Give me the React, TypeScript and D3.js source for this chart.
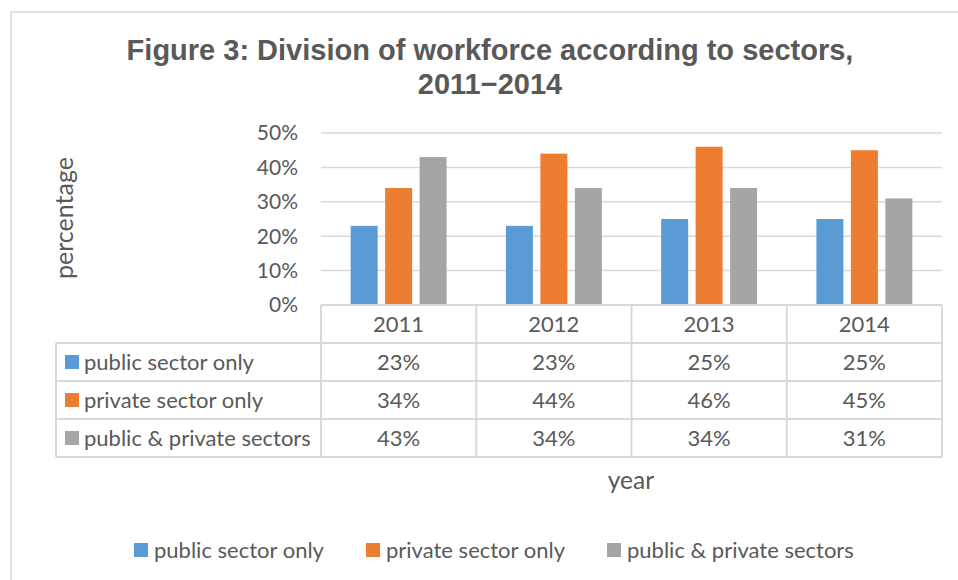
import React, { useEffect, useRef } from 'react';
import * as d3 from 'd3';

const years = ['2011', '2012', '2013', '2014'];
const seriesNames = ['public sector only', 'private sector only', 'public & private sectors'];
const publicOnly = [23, 23, 25, 25];
const privateOnly = [34, 44, 46, 45];
const bothSectors = [43, 34, 34, 31];
const colors = ['#5B9BD5', '#ED7D31', '#A5A5A5'];
const yTicks = [0, 10, 20, 30, 40, 50];

const textColor = '#595959';
const gridColor = '#D9D9D9';
const bodyFont = 'Lato, "Open Sans", sans-serif';

export default function App() {
  const svgRef = useRef<SVGSVGElement>(null);

  useEffect(() => {
    document.body.style.margin = '0';
    if (!svgRef.current) return;
    const svg = d3.select(svgRef.current);
    svg.selectAll('*').remove();

    const width = 958;
    const height = 580;
    const plot = { left: 321, right: 942, top: 133, bottom: 305 };
    const rowH = 38;

    svg.append('rect').attr('width', width).attr('height', height).attr('fill', '#fff');

    // chart border (right/bottom edges fall outside the picture)
    svg.append('rect')
      .attr('x', 11).attr('y', 12)
      .attr('width', 980).attr('height', 600)
      .attr('fill', 'none').attr('stroke', gridColor).attr('stroke-width', 1.5);

    // title
    const title = svg.append('text')
      .attr('text-anchor', 'middle')
      .attr('font-family', '"Liberation Sans", Arial, sans-serif')
      .attr('font-weight', 'bold')
      .attr('font-size', 29)
      .attr('fill', textColor);
    title.append('tspan').attr('x', 490).attr('y', 60).text('Figure 3: Division of workforce according to sectors,');
    title.append('tspan').attr('x', 490).attr('y', 94).text('2011\u22122014');

    const data = [publicOnly, privateOnly, bothSectors];

    const x = d3.scaleBand().domain(years).range([plot.left, plot.right]).paddingInner(0).paddingOuter(0);
    const xs = d3.scaleBand().domain(seriesNames).range([0, x.bandwidth()]).paddingInner(0.217).paddingOuter(0.86);
    const y = d3.scaleLinear().domain([0, 50]).range([plot.bottom, plot.top]);

    // gridlines
    svg.append('g')
      .selectAll('line')
      .data(yTicks.filter(t => t > 0))
      .join('line')
      .attr('x1', plot.left).attr('x2', plot.right)
      .attr('y1', d => y(d)).attr('y2', d => y(d))
      .attr('stroke', gridColor).attr('stroke-width', 1.5);

    // y tick labels
    svg.append('g')
      .selectAll('text')
      .data(yTicks)
      .join('text')
      .attr('x', 298)
      .attr('y', d => y(d))
      .attr('dy', '0.35em')
      .attr('text-anchor', 'end')
      .attr('font-family', bodyFont)
      .attr('font-size', 21)
      .attr('fill', textColor)
      .text(d => `${d}%`);

    // bars
    seriesNames.forEach((name, si) => {
      svg.append('g')
        .selectAll('rect')
        .data(years)
        .join('rect')
        .attr('x', (d) => (x(d) ?? 0) + (xs(name) ?? 0))
        .attr('width', xs.bandwidth())
        .attr('y', (_, i) => y(data[si][i]))
        .attr('height', (_, i) => y(0) - y(data[si][i]))
        .attr('fill', colors[si]);
    });

    // data table
    const table = svg.append('g')
      .attr('fill', 'none').attr('stroke', gridColor).attr('stroke-width', 2);
    const tableLeft = 56;
    const tableBottom = plot.bottom + rowH * 4;
    table.append('line').attr('x1', plot.left).attr('x2', plot.right).attr('y1', plot.bottom).attr('y2', plot.bottom);
    for (let r = 1; r <= 4; r++) {
      table.append('line')
        .attr('x1', tableLeft).attr('x2', plot.right)
        .attr('y1', plot.bottom + rowH * r).attr('y2', plot.bottom + rowH * r);
    }
    table.append('line').attr('x1', tableLeft).attr('x2', tableLeft)
      .attr('y1', plot.bottom + rowH).attr('y2', tableBottom);
    [...years.map(d => x(d) ?? 0), plot.right].forEach(vx => {
      table.append('line').attr('x1', vx).attr('x2', vx)
        .attr('y1', plot.bottom).attr('y2', tableBottom);
    });

    const cellText = (g: d3.Selection<SVGGElement, unknown, null, undefined>) =>
      g.attr('font-family', bodyFont).attr('font-size', 22).attr('fill', textColor);

    // header years
    cellText(svg.append('g'))
      .selectAll('text')
      .data(years)
      .join('text')
      .attr('x', d => (x(d) ?? 0) + x.bandwidth() / 2)
      .attr('y', plot.bottom + rowH / 2)
      .attr('dy', '0.35em')
      .attr('text-anchor', 'middle')
      .text(d => d);

    // rows
    seriesNames.forEach((name, si) => {
      const rowY = plot.bottom + rowH * (si + 1) + rowH / 2;
      svg.append('rect')
        .attr('x', 65).attr('y', rowY - 7)
        .attr('width', 14).attr('height', 14)
        .attr('fill', colors[si]);
      cellText(svg.append('g'))
        .append('text')
        .attr('x', 84).attr('y', rowY).attr('dy', '0.35em')
        .text(name);
      cellText(svg.append('g'))
        .selectAll('text')
        .data(years)
        .join('text')
        .attr('x', d => (x(d) ?? 0) + x.bandwidth() / 2)
        .attr('y', rowY)
        .attr('dy', '0.35em')
        .attr('text-anchor', 'middle')
        .text((_, i) => `${data[si][i]}%`);
    });

    // axis titles
    svg.append('text')
      .attr('transform', 'translate(64,218) rotate(-90)')
      .attr('text-anchor', 'middle')
      .attr('dy', '0.35em')
      .attr('font-family', bodyFont)
      .attr('font-size', 25)
      .attr('fill', textColor)
      .text('percentage');

    svg.append('text')
      .attr('x', 631).attr('y', 480)
      .attr('dy', '0.35em')
      .attr('text-anchor', 'middle')
      .attr('font-family', bodyFont)
      .attr('font-size', 24.5)
      .attr('fill', textColor)
      .text('year');

    // legend
    const legendX = [134, 366, 607];
    seriesNames.forEach((name, si) => {
      svg.append('rect')
        .attr('x', legendX[si]).attr('y', 543)
        .attr('width', 14).attr('height', 14)
        .attr('fill', colors[si]);
      svg.append('text')
        .attr('x', legendX[si] + 20).attr('y', 550)
        .attr('dy', '0.35em')
        .attr('font-family', bodyFont)
        .attr('font-size', 22)
        .attr('fill', textColor)
        .text(name);
    });
  }, []);

  return <svg ref={svgRef} width={958} height={580} style={{ display: 'block' }} />;
}
